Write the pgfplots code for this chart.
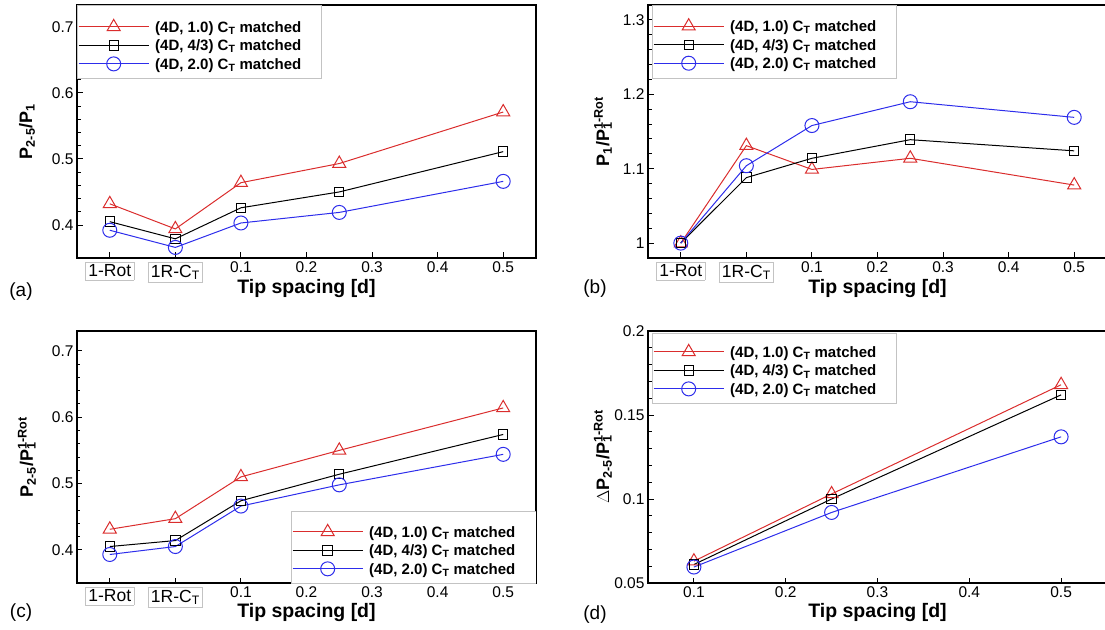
\documentclass[border=0pt]{standalone}
\usepackage{fontspec}
\setmainfont{Liberation Sans}
\usepackage{pgfplots}
\pgfplotsset{compat=1.18}

\definecolor{tred}{RGB}{218,45,45}
\definecolor{tblue}{RGB}{45,45,235}
\definecolor{boxgray}{RGB}{195,195,195}

\newcommand{\boxlab}[1]{{\fontsize{17.5}{18}\selectfont\setlength{\fboxsep}{2.5pt}\setlength{\fboxrule}{0.8pt}\fcolorbox{boxgray}{white}{#1}}}
\newcommand{\supsub}[2]{\rlap{\textsubscript{#1}}\textsuperscript{#2}}

\tikzset{lgbox/.style={draw=boxgray, line width=0.7pt, fill=white}}

\pgfplotsset{
  panel/.style={
    scale only axis, width=459pt, height=253pt,
    axis line style={line width=1.2pt, black},
    tick pos=left, tick align=inside, major tick length=5.5pt, minor tick length=3.5pt,
    every tick/.style={line width=0.9pt, black},
    minor y tick num=4,
    tick label style={font=\fontsize{15.5}{16}\selectfont},
    /pgf/number format/assume math mode=true,
    /pgf/number format/fixed,
    xlabel={Tip spacing [d]},
    xlabel style={font=\fontsize{19.5}{20}\selectfont\bfseries, anchor=center},
    ylabel style={font=\fontsize{18}{18}\selectfont\bfseries, anchor=center},
    legend style={font=\fontsize{15}{18}\selectfont\bfseries, draw=none,
      fill=none, inner xsep=1pt, inner ysep=0pt, row sep=0pt, anchor=north west,
      nodes={text height=14.2pt, text depth=3.5pt, inner ysep=0.4pt, inner xsep=6pt},
      cells={anchor=west}},
    legend image code/.code={\draw[mark repeat=2,mark phase=2,##1] plot coordinates {(0pt,0pt) (35pt,0pt) (70pt,0pt)};},
  },
  catx/.style={xmin=-0.15, xmax=0.55,
    xtick={-0.1,0,0.1,0.2,0.3,0.4,0.5},
    xticklabels={\boxlab{1-Rot},\boxlab{1R-C\textsubscript{T}},0.1,0.2,0.3,0.4,0.5}},
  sred/.style={color=tred, line width=1pt, mark=triangle, mark size=7.5pt, mark options={line width=1pt, solid}},
  sblack/.style={color=black, line width=1pt, mark=square, mark size=4.7pt, mark options={line width=1pt, solid}},
  sblue/.style={color=tblue, line width=1pt, mark=o, mark size=7pt, mark options={line width=1pt, solid}},
}

\begin{document}
\begin{tikzpicture}
\useasboundingbox (0,0) rectangle (1105pt,629pt);
\clip (0,0) rectangle (1105pt,629pt);

% (a)
\begin{axis}[panel, catx, at={(77pt,371pt)}, anchor=south west,
  ymin=0.35, ymax=0.733, ytick={0.4,0.5,0.6,0.7},
  xlabel style={at={(axis description cs:0.5,-0.12)}},
  ylabel={P\textsubscript{2-5}/P\textsubscript{1}},
  ylabel style={at={(axis description cs:-0.109,0.5)}},
  legend style={at={(axis description cs:0,0.9508)}}]
\addplot[sred] coordinates {(-0.1,0.432) (0,0.394) (0.1,0.464) (0.25,0.493) (0.5,0.571)};
\addlegendentry{(4D, 1.0) C\textsubscript{T} matched}
\addplot[sblack] coordinates {(-0.1,0.405) (0,0.379) (0.1,0.426) (0.25,0.450) (0.5,0.511)};
\addlegendentry{(4D, 4/3) C\textsubscript{T} matched}
\addplot[sblue] coordinates {(-0.1,0.392) (0,0.366) (0.1,0.403) (0.25,0.419) (0.5,0.466)};
\addlegendentry{(4D, 2.0) C\textsubscript{T} matched}
\draw[lgbox] (rel axis cs:0,1) rectangle (rel axis cs:0.5316,0.7115);
\end{axis}

% (b)
\begin{axis}[panel, catx, at={(648pt,371pt)}, anchor=south west,
  ymin=0.98, ymax=1.32, ytick={1,1.1,1.2,1.3},
  xlabel style={at={(axis description cs:0.5,-0.12)}},
  ylabel={P\textsubscript{1}/P\supsub{1}{1-Rot}},
  ylabel style={at={(axis description cs:-0.098,0.5)}},
  legend style={at={(axis description cs:0.0087,0.9535)}}]
\addplot[sred] coordinates {(-0.1,1) (0,1.131) (0.1,1.099) (0.25,1.114) (0.5,1.078)};
\addlegendentry{(4D, 1.0) C\textsubscript{T} matched}
\addplot[sblack] coordinates {(-0.1,1) (0,1.088) (0.1,1.114) (0.25,1.139) (0.5,1.124)};
\addlegendentry{(4D, 4/3) C\textsubscript{T} matched}
\addplot[sblue] coordinates {(-0.1,1) (0,1.104) (0.1,1.158) (0.25,1.190) (0.5,1.169)};
\addlegendentry{(4D, 2.0) C\textsubscript{T} matched}
\draw[lgbox] (rel axis cs:0.0087,1) rectangle (rel axis cs:0.5403,0.7115);
\end{axis}

% (c)
\begin{axis}[panel, catx, at={(77pt,46pt)}, anchor=south west, height=252pt,
  ymin=0.35, ymax=0.73, ytick={0.4,0.5,0.6,0.7},
  xlabel style={at={(axis description cs:0.5,-0.116)}},
  ylabel={P\textsubscript{2-5}/P\supsub{1}{1-Rot}},
  ylabel style={at={(axis description cs:-0.109,0.5)}},
  legend style={at={(axis description cs:0.4662,0.2405)}}]
\addplot[sred] coordinates {(-0.1,0.431) (0,0.447) (0.1,0.510) (0.25,0.550) (0.5,0.614)};
\addlegendentry{(4D, 1.0) C\textsubscript{T} matched}
\addplot[sblack] coordinates {(-0.1,0.405) (0,0.414) (0.1,0.474) (0.25,0.514) (0.5,0.574)};
\addlegendentry{(4D, 4/3) C\textsubscript{T} matched}
\addplot[sblue] coordinates {(-0.1,0.393) (0,0.405) (0.1,0.466) (0.25,0.498) (0.5,0.544)};
\addlegendentry{(4D, 2.0) C\textsubscript{T} matched}
\draw[lgbox] (rel axis cs:0.4662,0.2857) rectangle (rel axis cs:1,0);
\end{axis}

% (d)
\begin{axis}[panel, at={(648pt,46pt)}, anchor=south west, height=252pt,
  xmin=0.05, xmax=0.55, xtick={0.1,0.2,0.3,0.4,0.5},
  ymin=0.05, ymax=0.2, ytick={0.05,0.1,0.15,0.2},
  xlabel style={at={(axis description cs:0.5,-0.116)}},
  ylabel={$\Delta$P\textsubscript{2-5}/P\supsub{1}{1-Rot}},
  ylabel style={at={(axis description cs:-0.098,0.5)}},
  legend style={at={(axis description cs:0.0087,0.9546)}}]
\addplot[sred] coordinates {(0.1,0.063) (0.25,0.103) (0.5,0.168)};
\addlegendentry{(4D, 1.0) C\textsubscript{T} matched}
\addplot[sblack] coordinates {(0.1,0.061) (0.25,0.100) (0.5,0.162)};
\addlegendentry{(4D, 4/3) C\textsubscript{T} matched}
\addplot[sblue] coordinates {(0.1,0.0595) (0.25,0.092) (0.5,0.137)};
\addlegendentry{(4D, 2.0) C\textsubscript{T} matched}
\draw[lgbox] (rel axis cs:0.0087,0.991) rectangle (rel axis cs:0.5403,0.7146);
\end{axis}

\node[font=\fontsize{19}{20}\selectfont] at (21pt,337pt) {(a)};
\node[font=\fontsize{19}{20}\selectfont] at (595pt,340pt) {(b)};
\node[font=\fontsize{19}{20}\selectfont] at (21pt,16pt) {(c)};
\node[font=\fontsize{19}{20}\selectfont] at (595pt,14pt) {(d)};
\end{tikzpicture}
\end{document}
